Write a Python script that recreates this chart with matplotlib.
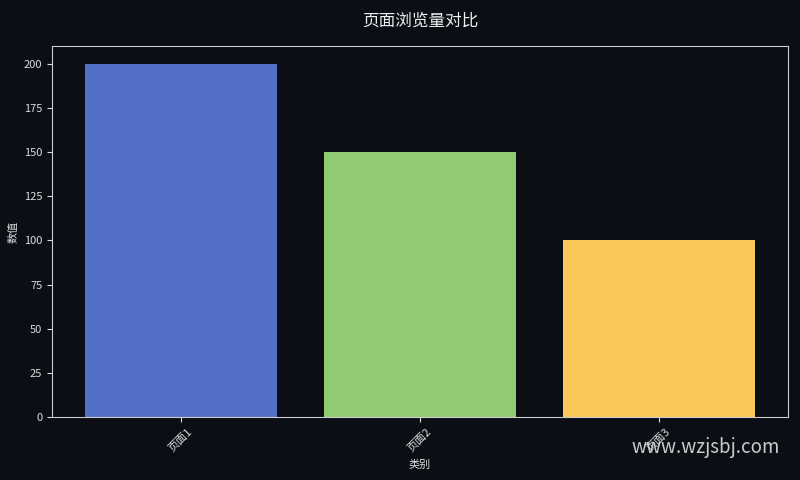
import matplotlib
matplotlib.use("Agg")
import matplotlib.pyplot as plt

plt.rcParams['font.family'] = ['Noto Sans CJK SC', 'DejaVu Sans']

categories = ['页面1', '页面2', '页面3']
values = [200, 150, 100]
colors = ['#5470c6', '#91cc75', '#fac858']

bg = '#0b0e14'
fig = plt.figure(figsize=(8, 4.8), dpi=100, facecolor=bg)
ax = fig.add_axes([0.065, 0.131, 0.92, 0.773])
ax.set_facecolor(bg)
ax.bar(range(len(categories)), values, width=0.8, color=colors)
ax.set_xticks(range(len(categories)))
ax.set_xticklabels(categories, rotation=45, color='#dddddd', fontsize=8)
ax.tick_params(axis='y', colors='#dddddd', labelsize=8)
ax.tick_params(axis='x', colors='#dddddd')
for s in ax.spines.values():
    s.set_color('#cccccc')
ax.set_xlabel('类别', color='#dddddd', fontsize=8)
ax.set_ylabel('数值', color='#dddddd', fontsize=8)
ax.set_title('页面浏览量对比', color='#eeeeee', fontsize=12, pad=15)
fig.text(0.975, 0.067, 'www.wzjsbj.com', color='#e0e0e0', fontsize=13.5,
         ha='right', va='center', alpha=0.9)
fig.savefig('out.png', facecolor=bg)
